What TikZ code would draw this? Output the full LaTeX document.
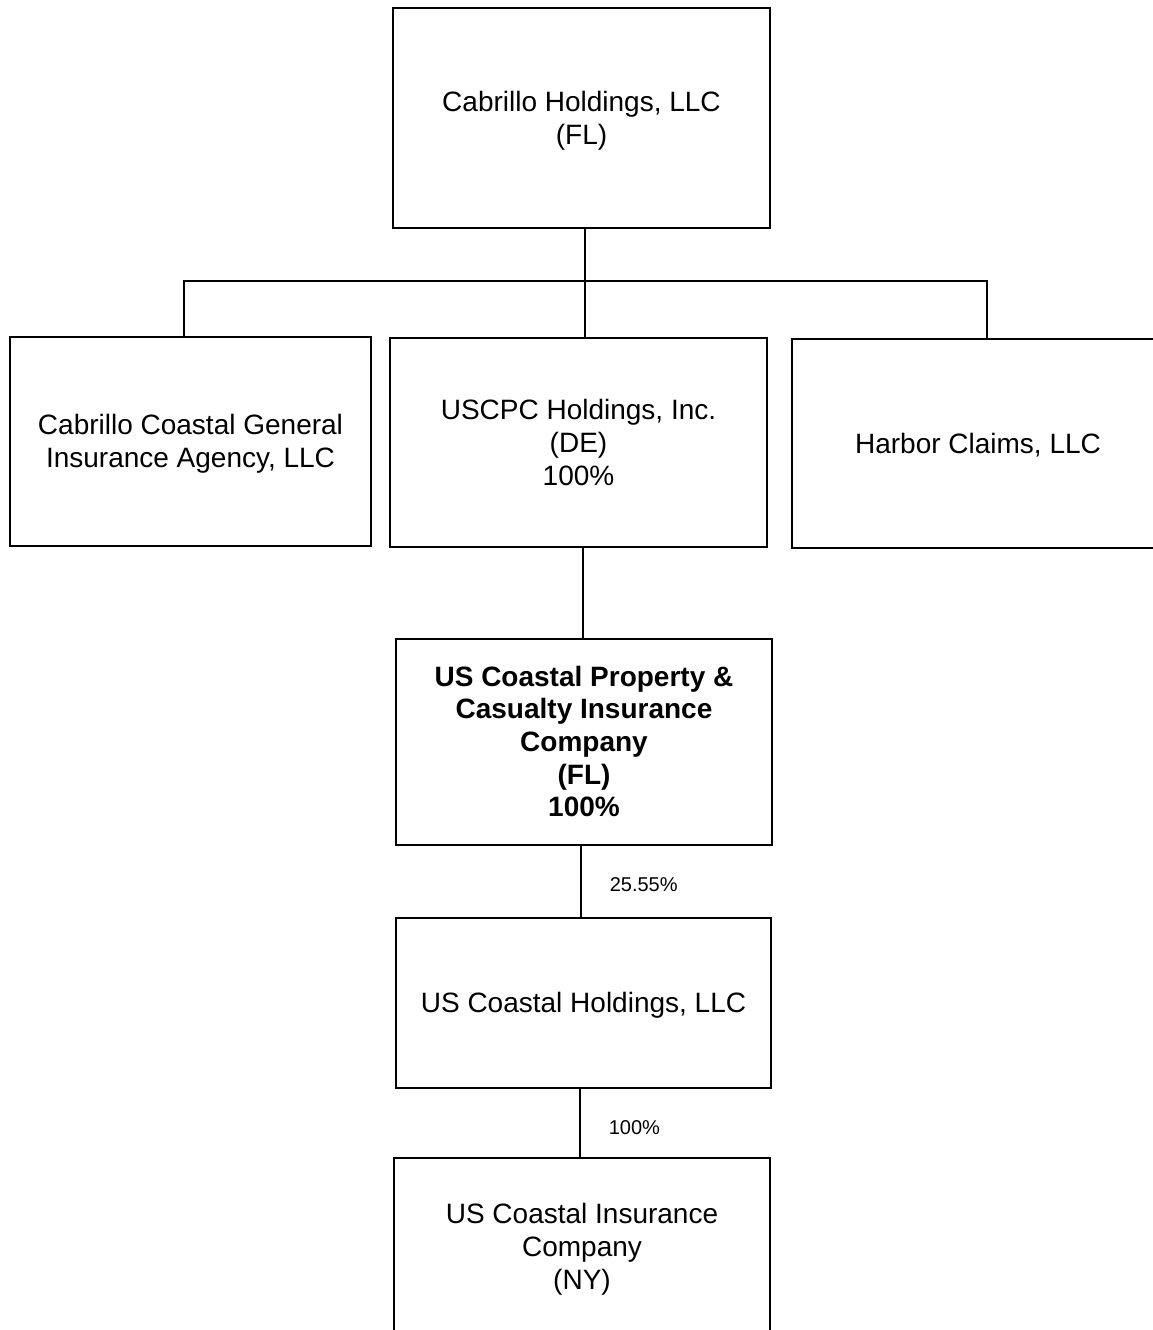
\documentclass[tikz,border=0pt]{standalone}
\usepackage{fontspec}
\setmainfont{Liberation Sans}
\newcommand{\boxlines}[1]{\raisebox{-3pt}[\height][\depth]{\begin{tabular}{@{}c@{}}#1\end{tabular}}}
\begin{document}
\begin{tikzpicture}[x=1pt, y=-1pt,
        orgbox/.style={draw, rectangle, line width=1.6pt, inner sep=0pt,
            font=\fontsize{28}{33}\selectfont},
        share/.style={font=\fontsize{20}{24}\selectfont, inner sep=0pt},
        link/.style={line width=1.6pt}]
        \useasboundingbox (0,0) rectangle (1153,1330);
        \clip (0,0) rectangle (1153,1330);

        \node[style=orgbox, minimum width=377pt, minimum height=220pt] (cabrillo) at (581.5, 118) {\boxlines{Cabrillo Holdings, LLC\\(FL)}};
        \node[style=orgbox, minimum width=361pt, minimum height=209pt] (agency) at (190.5, 441.5) {\boxlines{Cabrillo Coastal General\\Insurance Agency, LLC}};
        \node[style=orgbox, minimum width=377pt, minimum height=209pt] (uscpc) at (578.5, 442.5) {\boxlines{USCPC Holdings, Inc.\\(DE)\\100\%}};
        \node[style=orgbox, minimum width=372pt, minimum height=209pt] (harbor) at (978, 443.5) {\boxlines{Harbor Claims, LLC}};
        \node[style=orgbox, minimum width=376pt, minimum height=206pt, font=\fontsize{28}{32.7}\selectfont\bfseries] (uspc) at (584, 742) {\boxlines{US Coastal Property \&\\Casualty Insurance\\Company\\(FL)\\100\%}};
        \node[style=orgbox, minimum width=375pt, minimum height=170pt] (usholdings) at (583.5, 1003) {\boxlines{US Coastal Holdings, LLC}};
        \node[style=orgbox, minimum width=376pt, minimum height=178pt] (usins) at (582, 1247) {\boxlines{US Coastal Insurance\\Company\\(NY)}};

        % bus under the parent
        \coordinate (busL) at (184, 281);
        \coordinate (busM) at (585, 281);
        \coordinate (busR) at (987, 281);

        \draw[style=link] (busM |- cabrillo.south) -- (busM |- uscpc.north);
        \draw[style=link] (busL |- agency.north) |- (busR) -- (busR |- harbor.north);

        \draw[style=link] (583, 0 |- uscpc.south) -- (583, 0 |- uspc.north);
        \draw[style=link] (581, 0 |- uspc.south) -- (581, 0 |- usholdings.north)
            node[style=share, pos=0.55, right=28pt] {25.55\%};
        \draw[style=link] (580, 0 |- usholdings.south) -- (580, 0 |- usins.north)
            node[style=share, pos=0.57, right=28pt] {100\%};
    \end{tikzpicture}
\end{document}
